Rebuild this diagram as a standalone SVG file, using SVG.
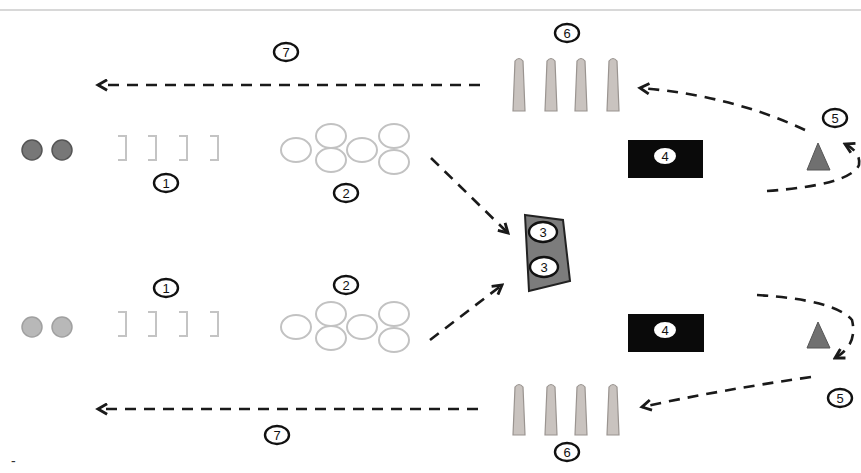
<svg xmlns="http://www.w3.org/2000/svg" width="861" height="473" viewBox="0 0 861 473">
<style>
.lbl{fill:#fff;stroke:#111;stroke-width:2.4}
.lblw{fill:#fff;stroke:none}
.t{font-family:"Liberation Sans",Arial,sans-serif;font-size:13px;fill:#111;text-anchor:middle;dominant-baseline:central}
.dash{fill:none;stroke:#1a1a1a;stroke-width:2.6;stroke-dasharray:11 8}
.cone{fill:#c9c3bf;stroke:#9a9490;stroke-width:1.2}
.brk{fill:none;stroke:#c4c4c4;stroke-width:2}
.ring{fill:none;stroke:#c2c2c2;stroke-width:2}
.blk{fill:#0a0a0a}
.tri{fill:#707070;stroke:#555;stroke-width:1}
</style>
<defs>
<marker id="ah" viewBox="0 0 10 10" refX="8" refY="5" markerWidth="5" markerHeight="5" orient="auto" markerUnits="strokeWidth">
<path d="M1,1 L8,5 L1,9" fill="none" stroke="#1a1a1a" stroke-width="2.2"/>
</marker>
</defs>
<rect width="861" height="473" fill="#fff"/>
<line x1="0" y1="10" x2="861" y2="10" stroke="#d8d8d8" stroke-width="2"/>

<g id="balls-top"><circle cx="32" cy="150" r="10" fill="#777" stroke="#555" stroke-width="1.5"/><circle cx="62" cy="150" r="10" fill="#777" stroke="#555" stroke-width="1.5"/></g>
<g id="balls-bottom"><circle cx="32" cy="327" r="10" fill="#b8b8b8" stroke="#a0a0a0" stroke-width="1.5"/><circle cx="62" cy="327" r="10" fill="#b8b8b8" stroke="#a0a0a0" stroke-width="1.5"/></g>

<g id="hurdles-top">
<path class="brk" d="M118,136 h8 v24 h-8 M148,136 h8 v24 h-8 M179,136 h8 v24 h-8 M210,136 h8 v24 h-8"/>
</g>
<g id="hurdles-bottom">
<path class="brk" d="M118,312 h8 v24 h-8 M148,312 h8 v24 h-8 M179,312 h8 v24 h-8 M210,312 h8 v24 h-8"/>
</g>

<g id="rings-top">
<ellipse class="ring" cx="296" cy="150" rx="15" ry="12"/>
<ellipse class="ring" cx="331" cy="136" rx="15" ry="12"/>
<ellipse class="ring" cx="331" cy="160" rx="15" ry="12"/>
<ellipse class="ring" cx="362" cy="150" rx="15" ry="12"/>
<ellipse class="ring" cx="394" cy="136" rx="15" ry="12"/>
<ellipse class="ring" cx="394" cy="162" rx="15" ry="12"/>
</g>
<g id="rings-bottom">
<ellipse class="ring" cx="296" cy="327" rx="15" ry="12"/>
<ellipse class="ring" cx="331" cy="314" rx="15" ry="12"/>
<ellipse class="ring" cx="331" cy="338" rx="15" ry="12"/>
<ellipse class="ring" cx="362" cy="327" rx="15" ry="12"/>
<ellipse class="ring" cx="394" cy="314" rx="15" ry="12"/>
<ellipse class="ring" cx="394" cy="340" rx="15" ry="12"/>
</g>

<g id="box3">
<path d="M525,215 L563,220 L570,281 L529,291 Z" fill="#7c7c7c" stroke="#222" stroke-width="2"/>
<ellipse class="lbl" cx="543" cy="232" rx="14" ry="10"/><text class="t" x="543" y="232">3</text>
<ellipse class="lbl" cx="544" cy="267" rx="14" ry="10"/><text class="t" x="544" y="267">3</text>
</g>

<g id="cones-top">
<path class="cone" d="M513,111 L515,61 Q519,56 523,61 L525,111 Z"/>
<path class="cone" d="M545,111 L547,61 Q551,56 555,61 L557,111 Z"/>
<path class="cone" d="M575,111 L577,61 Q581,56 585,61 L587,111 Z"/>
<path class="cone" d="M607,111 L609,61 Q613,56 617,61 L619,111 Z"/>
</g>
<g id="cones-bottom">
<path class="cone" d="M513,435 L515,387 Q519,382 523,387 L525,435 Z"/>
<path class="cone" d="M545,435 L547,387 Q551,382 555,387 L557,435 Z"/>
<path class="cone" d="M575,435 L577,387 Q581,382 585,387 L587,435 Z"/>
<path class="cone" d="M607,435 L609,387 Q613,382 617,387 L619,435 Z"/>
</g>

<g id="mat-top"><rect class="blk" x="628" y="140" width="75" height="38"/><ellipse class="lblw" cx="665" cy="156" rx="11" ry="8"/><text class="t" x="665" y="156">4</text></g>
<g id="mat-bottom"><rect class="blk" x="628" y="314" width="76" height="38"/><ellipse class="lblw" cx="665" cy="330" rx="11" ry="8"/><text class="t" x="665" y="330">4</text></g>

<g id="marker-top"><path class="tri" d="M818,143 L830,170 L807,170 Z"/></g>
<g id="marker-bottom"><path class="tri" d="M818,322 L830,348 L807,348 Z"/></g>

<g id="connectors">
<path class="dash" d="M480,85 L98,85" marker-end="url(#ah)"/>
<path class="dash" d="M478,409 L98,409" marker-end="url(#ah)"/>
<path class="dash" d="M431,158 L508,233" marker-end="url(#ah)"/>
<path class="dash" d="M430,340 L502,285" marker-end="url(#ah)"/>
<path class="dash" d="M805,130 Q730,95 640,88" marker-end="url(#ah)"/>
<path class="dash" d="M767,191 Q850,185 859,165 Q861,152 845,144" marker-end="url(#ah)"/>
<path class="dash" d="M757,295 Q835,300 852,320 Q858,345 835,358" marker-end="url(#ah)"/>
<path class="dash" d="M811,377 Q720,390 642,407" marker-end="url(#ah)"/>
</g>

<g id="labels">
<ellipse class="lbl" cx="166" cy="183" rx="12" ry="9"/><text class="t" x="166" y="183">1</text>
<ellipse class="lbl" cx="166" cy="288" rx="12" ry="9"/><text class="t" x="166" y="288">1</text>
<ellipse class="lbl" cx="346" cy="193" rx="12" ry="9"/><text class="t" x="346" y="193">2</text>
<ellipse class="lbl" cx="346" cy="285" rx="12" ry="9"/><text class="t" x="346" y="285">2</text>
<ellipse class="lbl" cx="567" cy="33" rx="12" ry="9"/><text class="t" x="567" y="33">6</text>
<ellipse class="lbl" cx="567" cy="452" rx="12" ry="9"/><text class="t" x="567" y="452">6</text>
<ellipse class="lbl" cx="286" cy="52" rx="12" ry="9"/><text class="t" x="286" y="52">7</text>
<ellipse class="lbl" cx="277" cy="435" rx="12" ry="9"/><text class="t" x="277" y="435">7</text>
<ellipse class="lbl" cx="835" cy="118" rx="12" ry="9"/><text class="t" x="835" y="118">5</text>
<ellipse class="lbl" cx="840" cy="398" rx="12" ry="9"/><text class="t" x="840" y="398">5</text>
</g>
<text x="11" y="466" font-family="Liberation Sans,Arial,sans-serif" font-size="14" fill="#333">-</text>
</svg>
